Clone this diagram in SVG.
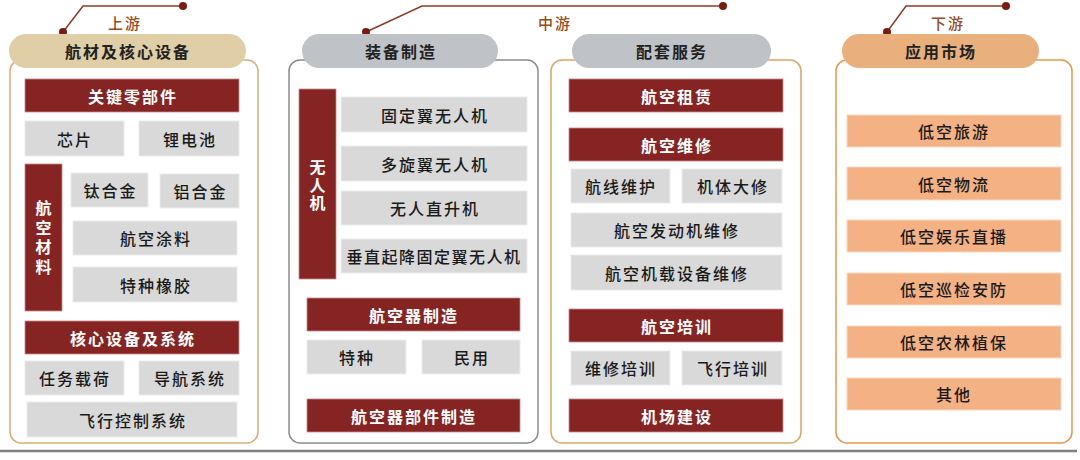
<svg xmlns="http://www.w3.org/2000/svg" width="1080" height="460" viewBox="0 0 1080 460">
<style>
text{font-family:"Noto Sans CJK SC","Noto Sans",sans-serif;text-anchor:middle;dominant-baseline:central;}
.g{fill:#d9d9d9;stroke:#ececec;stroke-width:1}
.r{fill:#862424;stroke:#c98a8a;stroke-width:0.8}
.o{fill:#f4b183;stroke:#fbd9c0;stroke-width:1}
.tg{font-size:16px;font-weight:500;fill:#1a1a1a;letter-spacing:2px}
.tr{font-size:16px;font-weight:700;fill:#ffffff;letter-spacing:2px}
.tv{font-size:16px;font-weight:700;fill:#ffffff;writing-mode:vertical-rl;}
.th{font-size:16px;font-weight:700;fill:#222;letter-spacing:2px}
.tl{font-size:15px;font-weight:500;fill:#9a4a20;letter-spacing:2px}
.ln{fill:none;stroke:#8e3b26;stroke-width:1.5}
.dot{fill:#7a1d10}
</style>

<line x1="0" y1="451" x2="1077" y2="451" stroke="#808080" stroke-width="2.5"/>

<g id="panel-up"><rect x="10" y="60" width="248" height="383" rx="11" fill="#fff" stroke="#d9ad72" stroke-width="1.5"/></g>
<g id="panel-mid1"><rect x="289" y="60" width="249" height="383" rx="11" fill="#fff" stroke="#8c8c8c" stroke-width="1.5"/></g>
<g id="panel-mid2"><rect x="551" y="60" width="250" height="383" rx="11" fill="#fff" stroke="#d9a866" stroke-width="1.5"/></g>
<g id="panel-down"><rect x="836" y="60" width="236" height="383" rx="11" fill="#fff" stroke="#e8964a" stroke-width="1.5"/></g>

<g id="connectors">
<polyline class="ln" points="63,32 83,6 183,6"/>
<circle class="dot" cx="63" cy="32" r="4"/><circle class="dot" cx="183" cy="6" r="4"/>
<polyline class="ln" points="366,32 422,6 723,6"/>
<circle class="dot" cx="366" cy="32" r="4"/><circle class="dot" cx="723" cy="6" r="4"/>
<polyline class="ln" points="887,32 906,6 1006,6"/>
<circle class="dot" cx="887" cy="32" r="4"/><circle class="dot" cx="1006" cy="6" r="4"/>
</g>
<g id="label-up"><text class="tl" x="125" y="22">上游</text></g>
<g id="label-mid"><text class="tl" x="555" y="22">中游</text></g>
<g id="label-down"><text class="tl" x="948" y="22">下游</text></g>

<g id="head-up"><rect x="9" y="34" width="237" height="34" rx="17" fill="#e0cfa6"/><text class="th" x="128" y="51">航材及核心设备</text></g>
<g id="head-mid1"><rect x="302" y="34" width="196" height="34" rx="17" fill="#bfc3c7"/><text class="th" x="401" y="51">装备制造</text></g>
<g id="head-mid2"><rect x="572" y="34" width="199" height="34" rx="17" fill="#bfc3c7"/><text class="th" x="672" y="51">配套服务</text></g>
<g id="head-down"><rect x="842" y="34" width="197" height="34" rx="17" fill="#e9b07e"/><text class="th" x="941" y="51">应用市场</text></g>

<!-- upstream -->
<g id="n-gjlbj"><rect class="r" x="25" y="79" width="214" height="33"/><text class="tr" x="133" y="95.5">关键零部件</text></g>
<g id="n-xp"><rect class="g" x="25" y="121" width="99" height="35"/><text class="tg" x="75" y="138.5">芯片</text></g>
<g id="n-ldc"><rect class="g" x="139" y="121" width="100" height="35"/><text class="tg" x="190" y="138.5">锂电池</text></g>
<g id="n-hkcl"><rect class="r" x="25" y="164" width="37" height="147"/>
<text class="tv" x="43.5" y="239" style="letter-spacing:3.5px">航空材料</text></g>
<g id="n-thj"><rect class="g" x="71" y="173" width="77" height="34"/><text class="tg" x="110.5" y="190">钛合金</text></g>
<g id="n-lhj"><rect class="g" x="160" y="174" width="79" height="34"/><text class="tg" x="200.5" y="191">铝合金</text></g>
<g id="n-hktl"><rect class="g" x="73" y="221" width="164" height="34"/><text class="tg" x="156" y="238">航空涂料</text></g>
<g id="n-tzxj"><rect class="g" x="73" y="267" width="164" height="35"/><text class="tg" x="156" y="284.5">特种橡胶</text></g>
<g id="n-hxsb"><rect class="r" x="25" y="321" width="214" height="33"/><text class="tr" x="133" y="337.5">核心设备及系统</text></g>
<g id="n-rwzh"><rect class="g" x="25" y="361" width="99" height="34"/><text class="tg" x="75" y="378">任务载荷</text></g>
<g id="n-dhxt"><rect class="g" x="139" y="361" width="100" height="34"/><text class="tg" x="190" y="378">导航系统</text></g>
<g id="n-fxkz"><rect class="g" x="27" y="402" width="210" height="35"/><text class="tg" x="133" y="419.5">飞行控制系统</text></g>

<!-- midstream 1 -->
<g id="n-wrj"><rect class="r" x="299" y="89" width="37" height="190"/>
<text class="tv" x="317.5" y="186" style="letter-spacing:2px">无人机</text></g>
<g id="n-gdy"><rect class="g" x="341" y="97" width="186" height="35"/><text class="tg" x="435" y="114.5">固定翼无人机</text></g>
<g id="n-dxy"><rect class="g" x="341" y="146" width="186" height="35"/><text class="tg" x="435" y="163.5">多旋翼无人机</text></g>
<g id="n-wrzsj"><rect class="g" x="341" y="191" width="186" height="34"/><text class="tg" x="435" y="208">无人直升机</text></g>
<g id="n-czqj"><rect class="g" x="341" y="239" width="186" height="34"/><text class="tg" x="434" y="256" style="letter-spacing:1.5px">垂直起降固定翼无人机</text></g>
<g id="n-hkqzz"><rect class="r" x="307" y="298" width="213" height="33"/><text class="tr" x="414" y="314.5">航空器制造</text></g>
<g id="n-tz"><rect class="g" x="307" y="340" width="99" height="34"/><text class="tg" x="357" y="357">特种</text></g>
<g id="n-my"><rect class="g" x="422" y="340" width="98" height="34"/><text class="tg" x="472" y="357">民用</text></g>
<g id="n-hkqbj"><rect class="r" x="307" y="399" width="213" height="33"/><text class="tr" x="414" y="415.5">航空器部件制造</text></g>

<!-- midstream 2 -->
<g id="n-hkzl"><rect class="r" x="569" y="79" width="214" height="33"/><text class="tr" x="677" y="95.5">航空租赁</text></g>
<g id="n-hkwx"><rect class="r" x="569" y="128" width="214" height="33"/><text class="tr" x="677" y="144.5">航空维修</text></g>
<g id="n-hxwh"><rect class="g" x="571" y="169" width="99" height="34"/><text class="tg" x="621" y="186">航线维护</text></g>
<g id="n-jtdx"><rect class="g" x="682" y="169" width="100" height="34"/><text class="tg" x="733" y="186">机体大修</text></g>
<g id="n-fdj"><rect class="g" x="571" y="213" width="211" height="34"/><text class="tg" x="677" y="230">航空发动机维修</text></g>
<g id="n-jzsb"><rect class="g" x="571" y="255" width="211" height="35"/><text class="tg" x="677" y="272.5">航空机载设备维修</text></g>
<g id="n-hkpx"><rect class="r" x="569" y="309" width="214" height="33"/><text class="tr" x="677" y="325.5">航空培训</text></g>
<g id="n-wxpx"><rect class="g" x="571" y="351" width="99" height="34"/><text class="tg" x="621" y="368">维修培训</text></g>
<g id="n-fxpx"><rect class="g" x="682" y="351" width="100" height="34"/><text class="tg" x="733" y="368">飞行培训</text></g>
<g id="n-jcjs"><rect class="r" x="569" y="399" width="214" height="33"/><text class="tr" x="677" y="415.5">机场建设</text></g>

<!-- downstream -->
<g id="n-dkly"><rect class="o" x="847" y="115" width="214" height="32"/><text class="tg" x="954" y="131">低空旅游</text></g>
<g id="n-dkwl"><rect class="o" x="847" y="167" width="214" height="33"/><text class="tg" x="954" y="183.5">低空物流</text></g>
<g id="n-dkyl"><rect class="o" x="847" y="220" width="214" height="32"/><text class="tg" x="954" y="236">低空娱乐直播</text></g>
<g id="n-dkxj"><rect class="o" x="847" y="273" width="214" height="32"/><text class="tg" x="954" y="289">低空巡检安防</text></g>
<g id="n-dknl"><rect class="o" x="847" y="326" width="214" height="32"/><text class="tg" x="954" y="342">低空农林植保</text></g>
<g id="n-qt"><rect class="o" x="847" y="378" width="214" height="32"/><text class="tg" x="954" y="394">其他</text></g>
</svg>
